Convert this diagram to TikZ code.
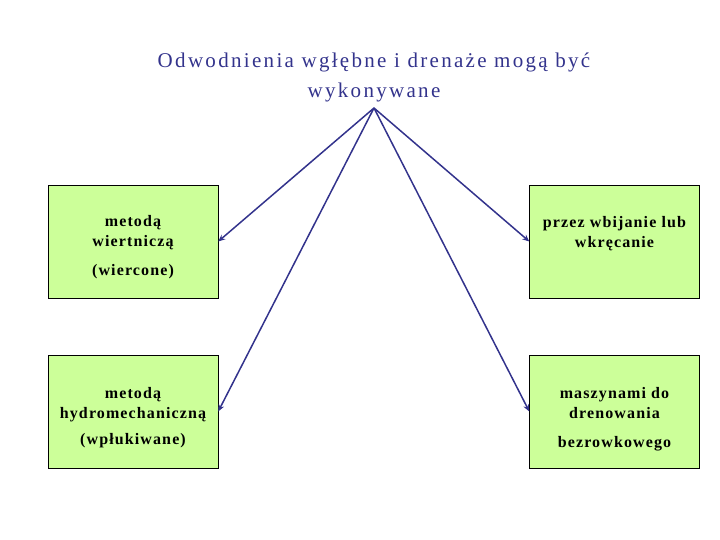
\documentclass[tikz,border=0pt]{standalone}
\usepackage{fontspec}
\setmainfont{Liberation Serif}
\usepackage{xcolor}
\usetikzlibrary{arrows.meta, positioning, calc}

\definecolor{navy}{RGB}{51,51,140}
\definecolor{boxgreen}{RGB}{204,255,153}

\begin{document}
\begin{tikzpicture}[x=1pt, y=-1pt, >={Stealth[length=7pt, width=6pt]},
    every node/.style={font=\fontsize{16}{20}\selectfont\bfseries\addfontfeatures{LetterSpace=7}},
    way/.style={draw=black, fill=boxgreen, minimum width=170pt, minimum height=113pt, inner sep=0pt},
    words/.style={align=center, inner sep=0pt},
    link/.style={->, line width=1.5pt, navy}]
  \useasboundingbox (0,0) rectangle (720,540);
  % title
  \node[font=\fontsize{21}{30}\selectfont\addfontfeatures{LetterSpace=11}, text=navy, align=center] (title) at (374,77)
    {Odwodnienia wgłębne i drenaże mogą być\\wykonywane};
  \coordinate (apex) at (374,108);
  % boxes
  \node[way] (drill) at (133,241.5) {};
  \node[way] (drive) at (614.5,241.5) {};
  \node[way] (flush) at (133,411.5) {};
  \node[way] (machine) at (614.5,411.5) {};
  % texts in the boxes
  \node[words, yshift=-6pt] (drilltext) at (drill) {metodą\\wiertniczą\\[9pt](wiercone)};
  \node[words, yshift=-7pt] (drivetext) at (drive) {przez wbijanie lub\\wkręcanie\\[9pt]\phantom{(wiercone)}};
  \node[words, yshift=-6pt] (flushtext) at (flush) {metodą\\hydromechaniczną\\[6pt](wpłukiwane)};
  \node[words, yshift=-7.5pt] (machinetext) at (machine) {maszynami do\\drenowania\\[9pt]bezrowkowego};
  % arrows
  \draw[link] (apex) -- (drill.east);
  \draw[link] (apex) -- (drive.west);
  \draw[link] (apex) -- (flush.east);
  \draw[link] (apex) -- (machine.west);
\end{tikzpicture}
\end{document}
